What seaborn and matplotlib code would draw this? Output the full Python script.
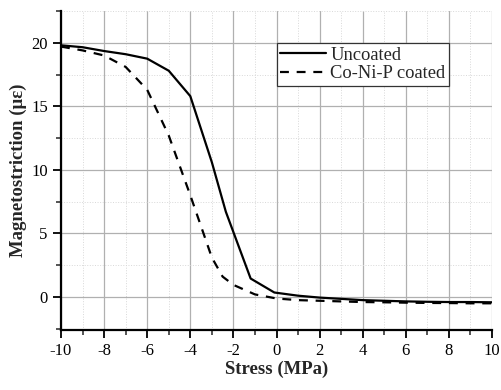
import numpy as np
import pandas as pd
import matplotlib
matplotlib.use("Agg")
import matplotlib.pyplot as plt
from matplotlib.ticker import MultipleLocator
import seaborn as sns

# Data
stress_uncoated = [-10, -9, -8, -7, -6, -5, -4, -3, -2.35, -1.2, -0.1, 1, 2, 3, 4, 5, 6, 7, 8, 9, 10]
ms_uncoated = [19.8, 19.65, 19.35, 19.1, 18.75, 17.8, 15.8, 10.6, 6.7, 1.45, 0.35, 0.1, -0.05,
               -0.15, -0.25, -0.3, -0.35, -0.38, -0.4, -0.4, -0.42]
stress_coated = [-10, -9, -8, -7, -6, -5, -4, -3, -2.5, -2, -1, 0, 1, 2, 3, 4, 5, 6, 7, 8, 9, 10]
ms_coated = [19.7, 19.4, 19.0, 18.1, 16.3, 12.7, 8.0, 3.1, 1.6, 0.95, 0.2, -0.12, -0.25, -0.3,
             -0.35, -0.4, -0.42, -0.45, -0.47, -0.48, -0.5, -0.5]
series_names = ["Uncoated", "Co-Ni-P coated"]
x_ticks = [-10, -8, -6, -4, -2, 0, 2, 4, 6, 8, 10]
y_ticks = [0, 5, 10, 15, 20]

sns.set_style("white")
plt.rcParams['font.family'] = ['Liberation Serif', 'DejaVu Serif']

df_u = pd.DataFrame({"Stress": stress_uncoated, "MS": ms_uncoated})
df_c = pd.DataFrame({"Stress": stress_coated, "MS": ms_coated})

fig = plt.figure(figsize=(5.01, 3.90), dpi=100)
ax = fig.add_axes([61/501, 1-330/390, (492-61)/501, (330-11)/390])

sns.lineplot(data=df_u, x="Stress", y="MS", ax=ax, color="black", lw=1.6,
             label=series_names[0], sort=False)
sns.lineplot(data=df_c, x="Stress", y="MS", ax=ax, color="black", lw=1.6,
             linestyle=(0, (4, 3.5)), label=series_names[1], sort=False)

ax.set_xlim(-10, 10)
ax.set_ylim(-2.6, 22.5)
ax.set_xticks(x_ticks)
ax.set_yticks(y_ticks)
ax.set_xticklabels([str(t) for t in x_ticks])
ax.set_yticklabels([str(t) for t in y_ticks])
ax.xaxis.set_minor_locator(MultipleLocator(1))
ax.yaxis.set_minor_locator(MultipleLocator(2.5))

ax.grid(which="major", color="#b0b0b0", lw=0.9, ls="-")
ax.grid(which="minor", color="#d8d8d8", lw=0.7, ls=":")
ax.set_axisbelow(True)

for s in ["top", "right"]:
    ax.spines[s].set_visible(False)
for s in ["left", "bottom"]:
    ax.spines[s].set_color("black")
    ax.spines[s].set_linewidth(1.6)

ax.tick_params(which="major", direction="out", length=6, width=1.3, labelsize=12,
               colors="black", bottom=True, left=True)
ax.tick_params(which="minor", direction="out", length=3.5, width=1.1,
               bottom=True, left=True)

ax.set_xlabel("Stress (MPa)", fontsize=13.5, fontweight="bold", labelpad=1)
ax.set_ylabel("Magnetostriction (\u03bc\u03b5)", fontsize=13.5, fontweight="bold", labelpad=3)

leg = ax.legend(loc="upper left", bbox_to_anchor=(0.5, 0.9), fontsize=13.3,
                frameon=True, fancybox=False, edgecolor="#333333", framealpha=1,
                handlelength=2.5, handletextpad=0.2, borderpad=0.2, labelspacing=0.1,
                borderaxespad=0)
leg.get_frame().set_linewidth(0.9)

fig.savefig("out.png", dpi=100)
